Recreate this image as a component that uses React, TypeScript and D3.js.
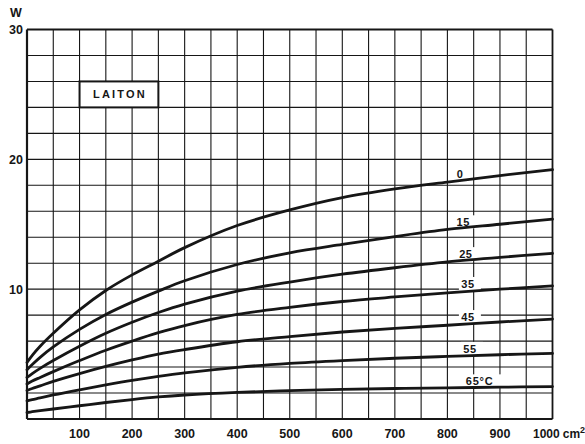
import React from "react";
import * as d3 from "d3";

const areas = [0, 10, 25, 50, 100, 150, 200, 250, 300, 400, 500, 600, 700, 800, 900, 1000];
const temps = ["0", "15", "25", "35", "45", "55", "65°C"];
const w0 = [4.35, 4.9, 5.6, 6.6, 8.4, 9.9, 11.1, 12.15, 13.2, 14.9, 16.1, 17.05, 17.72, 18.25, 18.75, 19.2];
const w15 = [3.8, 4.2, 4.75, 5.55, 6.9, 8.05, 9.0, 9.85, 10.65, 11.9, 12.8, 13.45, 14.05, 14.6, 15.0, 15.4];
const w25 = [3.2, 3.5, 3.9, 4.5, 5.6, 6.6, 7.45, 8.2, 8.85, 9.85, 10.55, 11.15, 11.65, 12.1, 12.45, 12.75];
const w35 = [2.7, 2.92, 3.2, 3.65, 4.5, 5.3, 6.0, 6.65, 7.2, 8.05, 8.6, 9.05, 9.4, 9.72, 10.0, 10.25];
const w45 = [2.2, 2.35, 2.55, 2.9, 3.5, 4.05, 4.55, 5.0, 5.35, 5.95, 6.35, 6.7, 6.98, 7.22, 7.47, 7.7];
const w55 = [1.4, 1.5, 1.62, 1.85, 2.25, 2.62, 2.97, 3.28, 3.55, 3.98, 4.28, 4.5, 4.68, 4.82, 4.95, 5.05];
const w65 = [0.5, 0.56, 0.64, 0.77, 1.02, 1.27, 1.5, 1.7, 1.85, 2.05, 2.18, 2.28, 2.35, 2.4, 2.45, 2.5];
const series = [w0, w15, w25, w35, w45, w55, w65];

// curve label anchors (data units)
const labelX = [824, 830, 835, 839, 839, 843, 852];
const labelW = [18.9, 15.15, 12.7, 10.4, 7.85, 5.4, 2.9];

const xTicks = [100, 200, 300, 400, 500, 600, 700, 800, 900];
const yTicks = [10, 20, 30];
const xGrid = d3.range(50, 1000, 50);
const yGrid = d3.range(2, 30, 2);

const FONT = "'Liberation Sans', Arial, sans-serif";

export default function App() {
  const x = d3.scaleLinear().domain([0, 1000]).range([27, 552.5]);
  const y = d3.scaleLinear().domain([0, 30]).range([419, 29.5]);
  const line = d3
    .line<number>()
    .x((_, i) => x(areas[i]))
    .y((d) => y(d))
    .curve(d3.curveCatmullRom.alpha(0.5));

  const ink = "#161616";

  return (
    <svg
      width={585}
      height={444}
      style={{ position: "absolute", left: 0, top: 0, background: "#fff" }}
    >
      <rect x={0} y={0} width={585} height={444} fill="#fff" />
      {/* grid */}
      {xGrid.map((v) => (
        <line key={"xg" + v} x1={x(v)} x2={x(v)} y1={y(0)} y2={y(30)} stroke={ink} strokeWidth={1.1} />
      ))}
      {yGrid.map((v) => (
        <line key={"yg" + v} x1={x(0)} x2={x(1000)} y1={y(v)} y2={y(v)} stroke={ink} strokeWidth={1.1} />
      ))}
      {/* frame */}
      <line x1={x(0)} x2={x(1000)} y1={y(30)} y2={y(30)} stroke={ink} strokeWidth={1.8} />
      <line x1={x(0)} x2={x(1000)} y1={y(0)} y2={y(0)} stroke={ink} strokeWidth={2.2} />
      <line x1={x(0)} x2={x(0)} y1={y(0)} y2={y(30)} stroke={ink} strokeWidth={2.2} />
      <line x1={x(1000)} x2={x(1000)} y1={y(0)} y2={y(30)} stroke={ink} strokeWidth={1.8} />

      {/* LAITON box */}
      <rect
        x={x(100)}
        y={y(26)}
        width={x(250) - x(100)}
        height={y(24) - y(26)}
        fill="#fff"
        stroke={ink}
        strokeWidth={2}
      />
      <text
        x={(x(100) + x(250)) / 2 + 1}
        y={(y(26) + y(24)) / 2 + 4}
        textAnchor="middle"
        fontFamily={FONT}
        fontWeight="bold"
        fontSize={11}
        letterSpacing={2.2}
        fill={ink}
      >
        LAITON
      </text>

      {/* label backgrounds */}
      {temps.map((t, i) => {
        const wd = t.length > 2 ? 34 : t.length === 2 ? 18 : 12;
        const cx = x(labelX[i]);
        const off = t.length > 2 ? 11 : 0;
        return (
          <rect
            key={"lb" + t}
            x={cx - wd / 2 + off}
            y={y(labelW[i]) - 7}
            width={wd + 4}
            height={13}
            fill="#fff"
          />
        );
      })}

      {/* curves */}
      {series.map((s, i) => (
        <path key={"c" + i} d={line(s) || ""} fill="none" stroke={ink} strokeWidth={2.8} strokeLinecap="round" />
      ))}

      {/* curve labels */}
      {temps.map((t, i) => (
        <text
          key={"lt" + t}
          x={x(labelX[i]) + (t.length > 2 ? -9 : 0)}
          y={y(labelW[i]) + 4}
          textAnchor={t.length > 2 ? "start" : "middle"}
          fontFamily={FONT}
          fontWeight="bold"
          fontSize={11}
          letterSpacing={t.length > 2 ? 0.8 : 0.5}
          fill={ink}
        >
          {t}
        </text>
      ))}

      {/* x tick labels */}
      {xTicks.map((v) => (
        <text
          key={"xt" + v}
          x={x(v)}
          y={438}
          textAnchor="middle"
          fontFamily={FONT}
          fontWeight="bold"
          fontSize={12.5}
          fill={ink}
        >
          {v}
        </text>
      ))}
      <text x={533} y={438} fontFamily={FONT} fontWeight="bold" fontSize={12} fill={ink}>
        1000
        <tspan dx={3}>cm</tspan>
        <tspan fontSize={9} dy={-5}>2</tspan>
      </text>

      {/* y tick labels */}
      {yTicks.map((v) => (
        <text
          key={"yt" + v}
          x={23}
          y={y(v) + 4.5}
          textAnchor="end"
          fontFamily={FONT}
          fontWeight="bold"
          fontSize={12.5}
          fill={ink}
        >
          {v}
        </text>
      ))}
      <text x={16} y={17} textAnchor="middle" fontFamily={FONT} fontWeight="bold" fontSize={12.5} fill={ink}>
        W
      </text>
    </svg>
  );
}
